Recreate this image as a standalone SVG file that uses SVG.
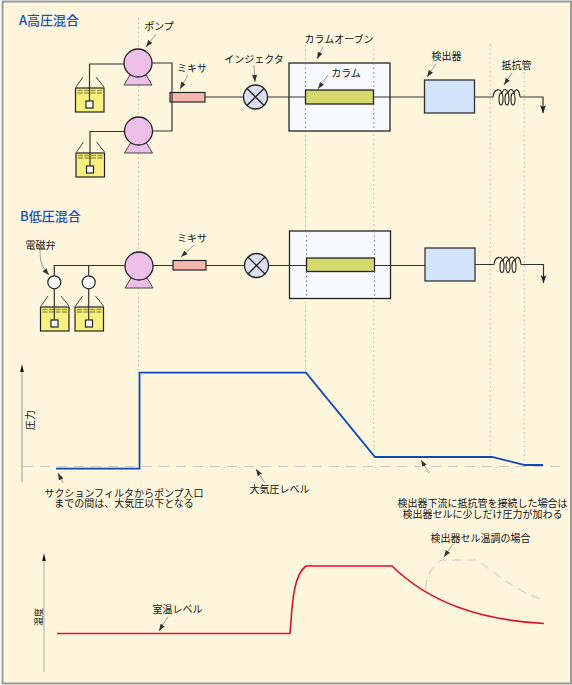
<svg xmlns="http://www.w3.org/2000/svg" width="572" height="685" viewBox="0 0 572 685">
<style>
text{font-family:"Noto Sans CJK JP","Liberation Sans",sans-serif;font-size:10px;fill:#111;text-anchor:middle}
.title{font-size:13px;font-weight:500;fill:#1a4fc0;text-anchor:start}
.pipe{fill:none;stroke:#333;stroke-width:1.2}
.dot{stroke:#b9b9a8;stroke-width:1;stroke-dasharray:1.5 3;fill:none}
.dot2{stroke:#77778a;stroke-width:1;stroke-dasharray:1.5 3;fill:none}
.lead{stroke:#999;stroke-width:1;fill:none;marker-end:url(#h)}
.pump{fill:#ecc0e8;stroke:#222;stroke-width:1.3}
.base{fill:#ecc0e8;stroke:#444;stroke-width:1}
.bottle{fill:#f8f080;stroke:#222;stroke-width:1.2}
.lid{stroke:#444;stroke-width:1;fill:none}
.liq{stroke:#a09a40;stroke-width:1.6;stroke-dasharray:5 1.5;fill:none}
.sq{fill:#fff;stroke:#222;stroke-width:1.2}
.mix{fill:#f5b8b0;stroke:#222;stroke-width:1.2}
.inj{fill:#dde0f2;stroke:#222;stroke-width:1.3}
.x{stroke:#222;stroke-width:1.3}
.oven{fill:#f8f8ff;stroke:#222;stroke-width:1.3}
.col{fill:#d4da6c;stroke:#222;stroke-width:1.3}
.det{fill:#d2e5fb;stroke:#333;stroke-width:1.3}
.valve{fill:#fff;stroke:#222;stroke-width:1.2}
.coil{fill:none;stroke:#222;stroke-width:1.1}
.blue{fill:none;stroke:#1048b8;stroke-width:1.8}
.red{fill:none;stroke:#e0102c;stroke-width:1.6}
</style>
<defs>
<marker id="h" markerWidth="8" markerHeight="6" refX="7" refY="3" orient="auto" markerUnits="userSpaceOnUse"><path d="M0,0.5L7,3L0,5.5z" fill="#333"/></marker>
<marker id="a" markerWidth="8" markerHeight="10" refX="8" refY="3" orient="auto" markerUnits="userSpaceOnUse"><path d="M0,0L8,3L0,6L2,3z" fill="#222"/></marker>
<g id="pumpShape"><path class="base" d="M-14,22L-8,12H8L14,22z"/><circle class="pump" r="14"/></g>
<g id="bottleShape">
<rect class="bottle" x="0" y="0" width="28.5" height="24"/>
<path class="lid" d="M0.5,-1L7.5,-11M28.5,-1L20.5,-11"/>
<path class="liq" d="M2,2.5H27M2,5H27"/>
</g>
<g id="coilShape" class="coil">
<path d="M0,0C1,-9 8,-9 9,-3C10,-9 14,-9 15,-3C16,-9 20,-9 21,-3C22,-9 26,-9 27,0"/>
<ellipse cx="8" cy="2" rx="2" ry="6"/><ellipse cx="14" cy="2" rx="2" ry="6"/><ellipse cx="20" cy="2" rx="2" ry="6"/>
</g>
</defs>
<rect x="2.5" y="1.5" width="568.5" height="682" fill="#fdf6dc" stroke="#999" stroke-width="2"/>
<g id="guides">
<path class="dot" d="M138.5,18V372M305.5,45V372M373.8,49V457M490.2,44V457M524.2,72V465"/>
</g>
<g id="title-a"><text class="title" x="19" y="25">A高圧混合</text></g>
<g id="pump-a1"><use href="#pumpShape" x="138" y="63"/><text x="159" y="30">ポンプ</text></g>
<g id="pump-a2"><use href="#pumpShape" x="138.5" y="131"/></g>
<g id="bottle-a1"><use href="#bottleShape" x="75.5" y="88"/><rect class="sq" x="86" y="101" width="7" height="7"/></g>
<g id="bottle-a2"><use href="#bottleShape" x="76" y="153"/><rect class="sq" x="86.5" y="166" width="7" height="7"/></g>
<g id="mixer-a"><rect class="mix" x="170" y="92.5" width="35" height="9.5"/><text x="192" y="72">ミキサ</text></g>
<g id="injector-a"><circle class="inj" cx="255.5" cy="97" r="12"/><path class="x" d="M247,88.5L264,105.5M264,88.5L247,105.5"/><text x="254" y="63">インジェクタ</text></g>
<g id="oven-a"><rect class="oven" x="289" y="63" width="101" height="68"/><text x="339" y="43">カラムオーブン</text></g>
<g id="column-a"><rect class="col" x="305.5" y="90" width="68" height="14"/><text x="346" y="77">カラム</text></g>
<g id="detector-a"><rect class="det" x="424.5" y="80" width="50" height="33"/><text x="446.5" y="60">検出器</text></g>
<g id="coil-a"><use href="#coilShape" x="493" y="97"/><text x="516.5" y="69">抵抗管</text></g>
<g id="title-b"><text class="title" x="20" y="221">B低圧混合</text></g>
<g id="valve-1"><circle class="valve" cx="54.3" cy="282.3" r="6.5"/><text x="40.5" y="248.5">電磁弁</text></g>
<g id="valve-2"><circle class="valve" cx="88.7" cy="282.3" r="6.5"/></g>
<g id="bottle-b1"><use href="#bottleShape" x="40.5" y="307"/><rect class="sq" x="51" y="320" width="7" height="7"/></g>
<g id="bottle-b2"><use href="#bottleShape" x="75" y="307"/><rect class="sq" x="85.5" y="320" width="7" height="7"/></g>
<g id="pump-b"><use href="#pumpShape" x="139" y="266"/></g>
<g id="mixer-b"><rect class="mix" x="173" y="260.5" width="33" height="9.5"/><text x="192" y="242">ミキサ</text></g>
<g id="injector-b"><circle class="inj" cx="256.5" cy="265.5" r="12"/><path class="x" d="M248,257L265,274M265,257L248,274"/></g>
<g id="oven-b"><rect class="oven" x="289.5" y="231" width="101" height="67.5"/></g>
<g id="column-b"><rect class="col" x="306.5" y="258" width="68" height="13.5"/></g>
<g id="detector-b"><rect class="det" x="425" y="248" width="50" height="33"/></g>
<g id="coil-b"><use href="#coilShape" x="494" y="264.5"/></g>
<g id="guides-oven"><path class="dot2" d="M305.5,63V90M305.5,104V131M373.8,63V90M373.8,104V131M306.5,231V258M306.5,271.5V298M374.5,231V258M374.5,271.5V298"/></g>
<g id="connectors">
<path class="pipe" d="M89.5,101V64H124M152,63H172V131H152.5M124.5,131.5H90V166"/>
<path class="pipe" d="M205,97H243.5M267.5,97H305.5M373.5,97H424.5"/>
<path class="pipe" d="M474.5,97H493M520,97H543V113" marker-end="url(#a)"/>
<path class="pipe" d="M54.3,275.8V265.5H125M88.7,265.5V275.8M54.3,288.8V320M88.7,288.8V320M153,265.5H173M206,265.5H244.5M268.5,265.5H306.5M374.5,265.5H425"/>
<path class="pipe" d="M475,264.5H494M521,264.5H543.5V283" marker-end="url(#a)"/>
<path class="lead" d="M156,34L146,47"/>
<path class="lead" d="M188,75L180,89"/>
<path class="lead" d="M254,65L255,82"/>
<path class="lead" d="M323,47L317,59"/>
<path class="lead" d="M328,75L318,89"/>
<path class="lead" d="M436,64L427,77"/>
<path class="lead" d="M512,73L504,85"/>
<path class="lead" d="M40,250C40,262 42,267 49,275"/>
<path class="lead" d="M194,245L181,257"/>
<path class="lead" d="M63,483L58,473"/>
<path class="lead" d="M265,483L256,469"/>
<path class="lead" d="M429,473L421,460"/>
<path class="lead" d="M168,616.5L159,631"/>
<path class="lead" d="M453,544L444,557"/>
</g>
<g id="pressure-chart">
<path d="M22,482V370" stroke="#aaa" stroke-width="1.2" fill="none"/>
<path d="M22,364L23.8,372H20.2z" fill="#111"/>
<path d="M23,466.5H565" stroke="#c9c9bf" stroke-width="1" stroke-dasharray="10 7" fill="none"/>
<path class="blue" d="M56,468.7H139.5V372.7H306L375,457H492L525,465H543"/>
<text transform="translate(30.5,420) rotate(-90)" y="3.5">圧力</text>
<text><tspan x="124" y="496.5">サクションフィルタからポンプ入口</tspan><tspan x="124" y="506.5">までの間は、大気圧以下となる</tspan></text>
<text x="279.5" y="492.5">大気圧レベル</text>
<text><tspan x="482.5" y="507">検出器下流に抵抗管を接続した場合は</tspan><tspan x="482.5" y="517.5">検出器セルに少しだけ圧力が加わる</tspan></text>
</g>
<g id="temperature-chart">
<path d="M44,672V558" stroke="#c8c8b8" stroke-width="1.6" fill="none"/>
<path d="M44,553L45.8,561H42.2z" fill="#111"/>
<path class="red" d="M57,633.5H290C292,612 292,576 306,566H392C430,603 480,620 544,623.5"/>
<path d="M425.5,589C427,574 434,563 442,560H477C500,577 522,595 544,599.5" fill="none" stroke="#bbb" stroke-width="0.9" stroke-dasharray="9 6"/>
<text transform="translate(38,617) rotate(-90)" y="3.5" style="font-size:9px">温度</text>
<text x="177.5" y="612.5">室温レベル</text>
<text x="480.5" y="541.5">検出器セル温調の場合</text>
</g>
</svg>
